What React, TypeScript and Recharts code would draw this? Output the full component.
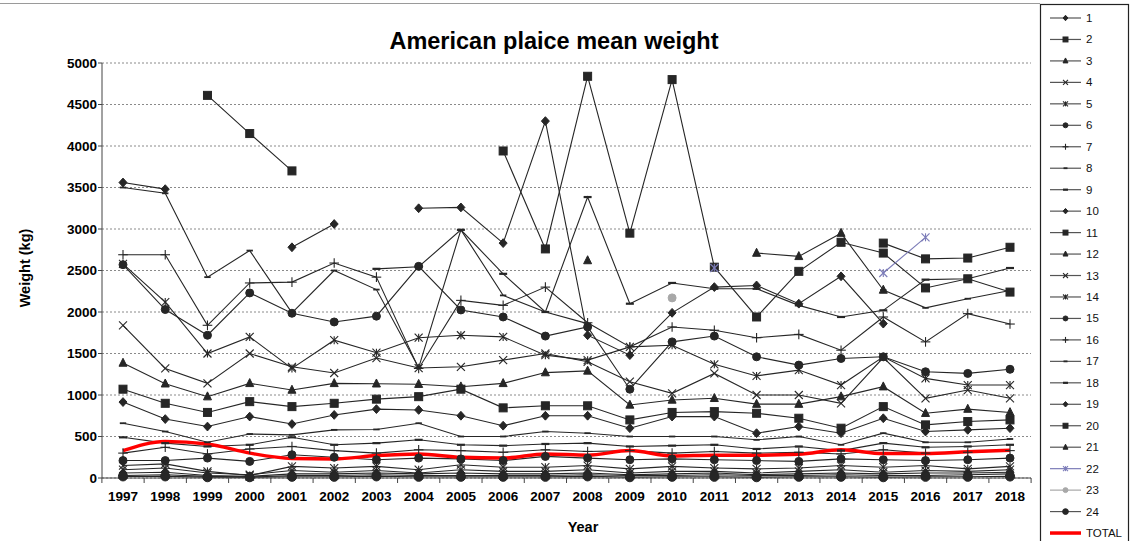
import React from 'react';
import { LineChart, Line, XAxis, YAxis, CartesianGrid } from 'recharts';

const years = ['1997', '1998', '1999', '2000', '2001', '2002', '2003', '2004', '2005', '2006', '2007', '2008', '2009', '2010', '2011', '2012', '2013', '2014', '2015', '2016', '2017', '2018'];
const yTicks = [0, 500, 1000, 1500, 2000, 2500, 3000, 3500, 4000, 4500, 5000];

const s1 = [3560, 3480, null, null, 2780, 3060, null, 3250, 3260, 2830, 4300, 1720, 1480, 1990, 2300, 2320, 2100, 2430, 1860, null, null, null];
const s2 = [null, null, 4610, 4150, 3700, null, null, null, null, 3940, 2760, 4840, 2950, 4800, 2540, 1940, 2490, 2840, 2710, 2290, 2400, 2240];
const s3 = [null, null, null, null, null, null, null, null, null, null, null, 2620, null, null, null, 2710, 2670, 2950, 2265, null, null, null];
const s4 = [1840, 1320, 1140, 1500, 1340, 1265, 1445, 1325, 1340, 1420, 1500, 1400, 1160, 1020, 1260, 1000, 1000, 900, 1450, 960, 1060, 960];
const s5 = [2580, 2120, 1500, 1700, 1320, 1660, 1510, 1690, 1720, 1700, 1480, 1420, 1580, 1600, 1370, 1230, 1300, 1120, 1460, 1200, 1120, 1120];
const s6 = [2570, 2030, 1720, 2230, 1985, 1880, 1950, 2550, 2025, 1940, 1710, 1820, 1070, 1640, 1710, 1460, 1360, 1440, 1460, 1280, 1260, 1310];
const s7 = [2690, 2690, 1840, 2350, 2360, 2590, 2420, 1320, 2140, 2080, 2300, 1870, 1580, 1820, 1780, 1690, 1730, 1540, 1940, 1640, 1980, 1855];
const s8 = [3500, 3430, 2420, 2740, 1990, 2500, 2270, 1330, 2990, 2200, 2000, 1860, null, null, null, null, null, null, 2265, 2050, 2160, 2260];
const s9 = [490, 420, 380, 400, 490, 400, 420, 460, 400, 390, 410, 420, 380, 390, 400, 350, 380, 330, 420, 370, 380, 400];
const s10 = [915, 710, 620, 740, 650, 760, 830, 820, 750, 630, 750, 750, 600, 740, 740, 540, 620, 540, 720, 560, 580, 600];
const s11 = [null, null, null, null, null, null, null, null, null, null, null, null, null, null, null, null, null, null, 2830, 2640, 2650, 2780];
const s12 = [1385, 1135, 980, 1140, 1060, 1140, 1135, 1130, 1100, 1140, 1270, 1290, 880, 940, 960, 890, 890, 980, 1100, 780, 830, 790];
const s13 = [100, 120, 60, 40, 90, 70, 90, 60, 100, 80, 80, 100, 60, 80, 80, 60, 80, 100, 70, 90, 80, 100];
const s14 = [150, 170, 80, 30, 140, 120, 140, 100, 160, 130, 130, 150, 110, 140, 120, 110, 120, 150, 130, 150, 110, 140];
const s15 = [210, 210, 240, 200, 280, 250, 220, 240, 230, 210, 260, 240, 220, 230, 220, 210, 200, 230, 220, 210, 220, 240];
const s16 = [300, 370, 290, 350, 380, 330, 300, 340, 330, 310, 340, 320, 330, 300, 320, 300, 310, 290, 340, 300, 310, 330];
const s17 = [660, 560, 430, 530, 520, 580, 585, 660, 500, 500, 560, 540, 500, 500, 500, 460, 500, 400, 540, 430, 430, 470];
const s18 = [null, null, null, null, null, null, 2520, 2545, 2990, 2460, 2000, 3385, 2100, 2350, 2280, 2280, 2080, 1940, 2020, 2390, 2400, 2530];
const s19 = [60, 70, 30, 20, 50, 50, 60, 50, 60, 50, 50, 60, 40, 50, 60, 40, 50, 60, 50, 60, 60, 70];
const s20 = [1070, 900, 790, 920, 860, 900, 950, 980, 1070, 845, 870, 870, 700, 790, 800, 780, 720, 600, 860, 640, 680, 700];
const s21 = [30, 40, 20, 10, 30, 30, 40, 30, 30, 30, 30, 40, 30, 30, 40, 30, 30, 40, 30, 30, 40, 50];
const s22 = [null, null, null, null, null, null, null, null, null, null, null, null, null, null, 2530, null, null, null, 2470, 2900, null, null];
const s23 = [null, null, null, null, null, null, null, null, null, null, null, null, null, 2170, null, null, null, null, null, null, null, 10];
const s24 = [20, 20, 10, 10, 15, 15, 20, 15, 15, 15, 15, 20, 10, 15, 15, 10, 15, 15, 10, 15, 15, 20];
const total = [330, 440, 410, 300, 235, 230, 270, 290, 250, 240, 290, 275, 330, 265, 275, 275, 285, 340, 295, 295, 315, 335];

const DARK = '#262626';

const seriesDefs: { key: string; values: (number | null)[]; marker: string; color: string }[] = [
  { key: '1', values: s1, marker: 'diamond', color: DARK },
  { key: '2', values: s2, marker: 'square', color: DARK },
  { key: '3', values: s3, marker: 'triangle', color: DARK },
  { key: '4', values: s4, marker: 'x', color: DARK },
  { key: '5', values: s5, marker: 'star', color: DARK },
  { key: '6', values: s6, marker: 'circle', color: DARK },
  { key: '7', values: s7, marker: 'plus', color: DARK },
  { key: '8', values: s8, marker: 'dashS', color: DARK },
  { key: '9', values: s9, marker: 'dash', color: DARK },
  { key: '10', values: s10, marker: 'diamond', color: DARK },
  { key: '11', values: s11, marker: 'square', color: DARK },
  { key: '12', values: s12, marker: 'triangle', color: DARK },
  { key: '13', values: s13, marker: 'x', color: DARK },
  { key: '14', values: s14, marker: 'star', color: DARK },
  { key: '15', values: s15, marker: 'circle', color: DARK },
  { key: '16', values: s16, marker: 'plus', color: DARK },
  { key: '17', values: s17, marker: 'dashS', color: DARK },
  { key: '18', values: s18, marker: 'dash', color: DARK },
  { key: '19', values: s19, marker: 'diamond', color: DARK },
  { key: '20', values: s20, marker: 'square', color: DARK },
  { key: '21', values: s21, marker: 'triangle', color: DARK },
  { key: '22', values: s22, marker: 'star', color: '#7c7cb8' },
  { key: '23', values: s23, marker: 'circle', color: '#a8a8a8' },
  { key: '24', values: s24, marker: 'bigcircle', color: DARK },
];

const data = years.map((y, i) => {
  const row: Record<string, any> = { year: y };
  seriesDefs.forEach((s) => {
    row['s' + s.key] = s.values[i];
  });
  row.TOTAL = total[i];
  return row;
});

function markerShape(m: string, cx: number, cy: number, color: string, k: string, sc: number) {
  const r = 4 * sc;
  switch (m) {
    case 'diamond':
      return <polygon key={k} points={`${cx},${cy - r * 1.1} ${cx + r},${cy} ${cx},${cy + r * 1.1} ${cx - r},${cy}`} fill={color} stroke={color} />;
    case 'square':
      return <rect key={k} x={cx - r} y={cy - r} width={2 * r} height={2 * r} fill={color} stroke={color} />;
    case 'triangle':
      return <polygon key={k} points={`${cx},${cy - r * 1.2} ${cx + r},${cy + r * 0.8} ${cx - r},${cy + r * 0.8}`} fill={color} stroke={color} />;
    case 'x':
      return (
        <g key={k} stroke={color} strokeWidth={1.1}>
          <line x1={cx - r} y1={cy - r} x2={cx + r} y2={cy + r} />
          <line x1={cx - r} y1={cy + r} x2={cx + r} y2={cy - r} />
        </g>
      );
    case 'star':
      return (
        <g key={k} stroke={color} strokeWidth={1.1}>
          <line x1={cx - r} y1={cy - r} x2={cx + r} y2={cy + r} />
          <line x1={cx - r} y1={cy + r} x2={cx + r} y2={cy - r} />
          <line x1={cx} y1={cy - r} x2={cx} y2={cy + r} />
        </g>
      );
    case 'circle':
      return <circle key={k} cx={cx} cy={cy} r={r} fill={color} stroke={color} />;
    case 'bigcircle':
      return <circle key={k} cx={cx} cy={cy} r={r * 1.15} fill={color} stroke={color} />;
    case 'plus':
      return (
        <g key={k} stroke={color} strokeWidth={1.1}>
          <line x1={cx - r * 1.2} y1={cy} x2={cx + r * 1.2} y2={cy} />
          <line x1={cx} y1={cy - r * 1.2} x2={cx} y2={cy + r * 1.2} />
        </g>
      );
    case 'dash':
      return <line key={k} x1={cx - r} y1={cy} x2={cx + r} y2={cy} stroke={color} strokeWidth={2.2} />;
    case 'dashS':
      return <line key={k} x1={cx - r * 0.8} y1={cy} x2={cx + r * 0.8} y2={cy} stroke={color} strokeWidth={1.8} />;
    default:
      return <g key={k} />;
  }
}

const makeDot = (m: string, color: string, sid: string) => (props: any) => {
  const { cx, cy, index, value } = props;
  const k = `dot-${sid}-${index}`;
  if (cx == null || cy == null || value == null || Number.isNaN(cy)) return <g key={k} />;
  return markerShape(m, cx, cy, color, k, 1);
};

const FONT = '"Liberation Sans", Arial, sans-serif';
const HALF_STEP = 21.1;

const YearTick = (props: any) => {
  const { x, y, payload, index } = props;
  const axisY = y - 13;
  return (
    <g>
      <line x1={x - HALF_STEP} x2={x - HALF_STEP} y1={axisY} y2={axisY + 5} stroke="#444" />
      {index === years.length - 1 ? (
        <line x1={x + HALF_STEP} x2={x + HALF_STEP} y1={axisY} y2={axisY + 5} stroke="#444" />
      ) : null}
      <text x={x} y={y} dy="0.71em" textAnchor="middle" fontSize={13.5} fontWeight="bold" fontFamily={FONT} fill="#000">
        {payload.value}
      </text>
    </g>
  );
};

function LegendBox() {
  const step = 21.46;
  return (
    <svg style={{ position: 'absolute', left: 1039, top: 3 }} width={91} height={538}>
      <rect x={1.5} y={1.5} width={88} height={545} fill="#fff" stroke="#222" strokeWidth={1.2} />
      {seriesDefs.map((s, i) => {
        const y = 15 + i * step;
        return (
          <g key={'lg' + s.key}>
            <line x1={11} x2={42} y1={y} y2={y} stroke={s.color === DARK ? '#555' : s.color} strokeWidth={1.2} />
            {markerShape(s.marker, 26.5, y, s.color, 'lm' + s.key, 0.62)}
            <text x={47} y={y + 4} fontSize={11.5} fontFamily={FONT} fill="#111">{s.key}</text>
          </g>
        );
      })}
      <line x1={11} x2={42} y1={15 + 24 * step} y2={15 + 24 * step} stroke="#ff0000" strokeWidth={3.5} />
      <text x={47} y={15 + 24 * step + 4} fontSize={11.5} fontFamily={FONT} fill="#111">TOTAL</text>
    </svg>
  );
}

export default function App() {
  return (
    <div style={{ position: 'absolute', left: 0, top: 0, width: 1130, height: 541, background: '#fff', fontFamily: FONT }}>
      <LineChart
        width={1035}
        height={541}
        data={data}
        margin={{ top: 63, right: 4, bottom: 33, left: 0 }}
      >
        <CartesianGrid vertical={false} stroke="#8a8a8a" strokeDasharray="2 2" />
        <XAxis
          dataKey="year"
          interval={0}
          height={30}
          padding={{ left: 21, right: 21 }}
          tickLine={false}
          tickSize={0}
          tickMargin={13}
          axisLine={{ stroke: '#444' }}
          tick={YearTick}
        />
        <YAxis
          width={102}
          domain={[0, 5000]}
          ticks={yTicks}
          interval={0}
          tickSize={4}
          tickMargin={1}
          axisLine={{ stroke: '#444' }}
          tickLine={{ stroke: '#444' }}
          tick={{ fill: '#000', fontSize: 13.5, fontWeight: 'bold', fontFamily: FONT }}
        />
        {seriesDefs.map((s) => (
          <Line
            key={s.key}
            type="linear"
            dataKey={'s' + s.key}
            name={s.key}
            stroke={s.color}
            strokeWidth={1.1}
            dot={makeDot(s.marker, s.color, s.key)}
            activeDot={false}
            isAnimationActive={false}
          />
        ))}
        <Line
          type="monotone"
          dataKey="TOTAL"
          name="TOTAL"
          stroke="#ff0000"
          strokeWidth={3.5}
          dot={false}
          activeDot={false}
          isAnimationActive={false}
        />
      </LineChart>
      <svg style={{ position: 'absolute', left: 0, top: 0, pointerEvents: 'none' }} width={1040} height={541}>
        <line x1={0} x2={1040} y1={3.5} y2={3.5} stroke="#9a9a9a" strokeWidth={1} />
        <text x={554} y={49} textAnchor="middle" fontSize={23.5} fontWeight="bold" fontFamily={FONT} fill="#000">American plaice mean weight</text>
        <text x={583} y={532} textAnchor="middle" fontSize={14.5} fontWeight="bold" fontFamily={FONT} fill="#000">Year</text>
        <text x={0} y={0} transform="translate(30,268) rotate(-90)" textAnchor="middle" fontSize={14.5} fontWeight="bold" fontFamily={FONT} fill="#000">Weight (kg)</text>
      </svg>
      <LegendBox />
    </div>
  );
}
